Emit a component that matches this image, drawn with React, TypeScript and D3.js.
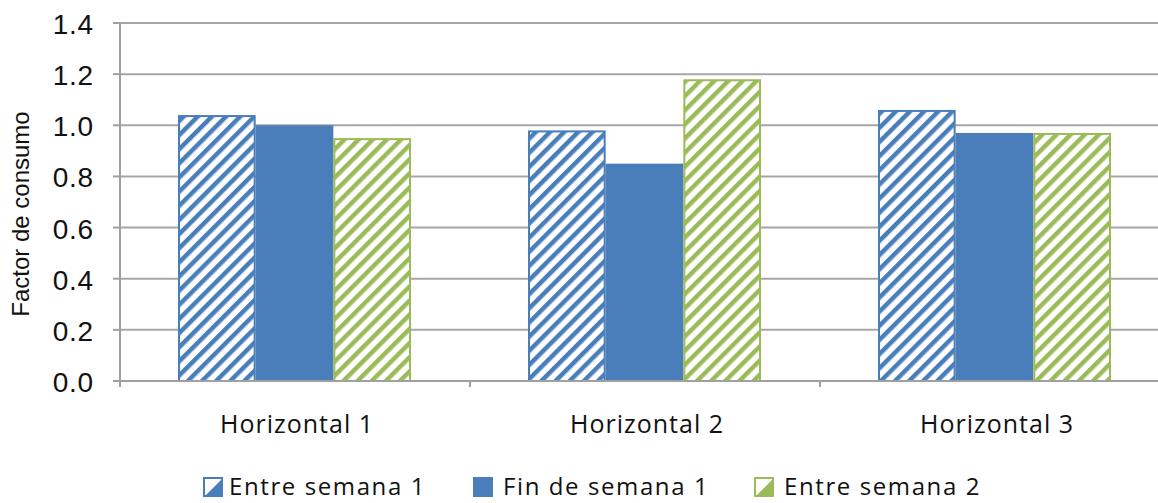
import { useEffect, useRef } from "react";
import * as d3 from "d3";

const categories = ["Horizontal 1", "Horizontal 2", "Horizontal 3"];
const seriesNames = ["Entre semana 1", "Fin de semana 1", "Entre semana 2"];
const entreSemana1 = [1.04, 0.98, 1.06];
const finDeSemana1 = [1.0, 0.85, 0.97];
const entreSemana2 = [0.95, 1.18, 0.97];
const yTicks = [0, 0.2, 0.4, 0.6, 0.8, 1.0, 1.2, 1.4];

const BLUE = "#4a7ebb";
const GREEN = "#9bbb59";

export default function App() {
  const svgRef = useRef<SVGSVGElement | null>(null);

  useEffect(() => {
    const width = 1158;
    const height = 503;
    const margin = { top: 23, right: -12, bottom: 122, left: 120 };

    const svg = d3.select(svgRef.current).attr("width", width).attr("height", height);
    svg.selectAll("*").remove();

    const series = [
      { name: seriesNames[0], values: entreSemana1, color: BLUE, hatch: true },
      { name: seriesNames[1], values: finDeSemana1, color: BLUE, hatch: false },
      { name: seriesNames[2], values: entreSemana2, color: GREEN, hatch: true },
    ];

    // patrones rayados
    const defs = svg.append("defs");
    [["hatch-blue", BLUE], ["hatch-green", GREEN]].forEach(([id, c]) => {
      const p = defs
        .append("pattern")
        .attr("id", id)
        .attr("patternUnits", "userSpaceOnUse")
        .attr("width", 10)
        .attr("height", 10)
        .attr("patternTransform", "rotate(45)");
      p.append("rect").attr("width", 10).attr("height", 10).attr("fill", "white");
      p.append("rect").attr("x", 0).attr("width", 4.5).attr("height", 10).attr("fill", c);
    });

    const x0 = d3
      .scaleBand()
      .domain(categories)
      .range([margin.left, width - margin.right]);

    const x1 = d3
      .scaleBand()
      .domain(seriesNames)
      .range([58, x0.bandwidth() - 59]);

    const y = d3
      .scaleLinear()
      .domain([0, 1.4])
      .range([height - margin.bottom, margin.top]);

    // rejilla
    svg
      .append("g")
      .selectAll("line")
      .data(yTicks.slice(1))
      .enter()
      .append("line")
      .attr("x1", margin.left)
      .attr("x2", width)
      .attr("y1", (d) => y(d))
      .attr("y2", (d) => y(d))
      .attr("stroke", "#a6a6a6")
      .attr("stroke-width", 2);

    // barras
    series.forEach((s) => {
      svg
        .append("g")
        .selectAll("rect")
        .data(s.values)
        .enter()
        .append("rect")
        .attr("x", (d, i) => (x0(categories[i]) as number) + (x1(s.name) as number) + (s.hatch ? 1 : 0))
        .attr("y", (d) => y(d) + (s.hatch ? 1 : 0))
        .attr("width", x1.bandwidth() - (s.hatch ? 2 : 0))
        .attr("height", (d) => y(0) - y(d) - (s.hatch ? 1 : 0))
        .attr("fill", s.hatch ? `url(#${s.color === BLUE ? "hatch-blue" : "hatch-green"})` : s.color)
        .attr("stroke", s.hatch ? s.color : "none")
        .attr("stroke-width", 2);
    });

    // ejes
    const axisColor = "#a0a0a0";
    const y0 = y(0);
    svg
      .append("line")
      .attr("x1", margin.left)
      .attr("x2", margin.left)
      .attr("y1", margin.top)
      .attr("y2", y0 + 6)
      .attr("stroke", axisColor)
      .attr("stroke-width", 2);
    svg
      .append("line")
      .attr("x1", margin.left - 7)
      .attr("x2", width)
      .attr("y1", y0)
      .attr("y2", y0)
      .attr("stroke", axisColor)
      .attr("stroke-width", 2);

    svg
      .append("g")
      .selectAll("line")
      .data(yTicks)
      .enter()
      .append("line")
      .attr("x1", margin.left - 7)
      .attr("x2", margin.left)
      .attr("y1", (d) => y(d))
      .attr("y2", (d) => y(d))
      .attr("stroke", axisColor)
      .attr("stroke-width", 2);

    svg
      .append("g")
      .selectAll("line")
      .data(categories.slice(1))
      .enter()
      .append("line")
      .attr("x1", (d) => x0(d) as number)
      .attr("x2", (d) => x0(d) as number)
      .attr("y1", y0)
      .attr("y2", y0 + 6)
      .attr("stroke", axisColor)
      .attr("stroke-width", 2);

    svg
      .append("g")
      .selectAll("text")
      .data(yTicks)
      .enter()
      .append("text")
      .attr("x", 94)
      .attr("y", (d) => y(d) + 11)
      .attr("text-anchor", "end")
      .attr("font-family", "Liberation Sans, Arial, sans-serif")
      .attr("font-size", 28)
      .attr("letter-spacing", 0.8)
      .attr("fill", "#111")
      .text((d) => d.toFixed(1));

    svg
      .append("text")
      .attr("transform", `translate(29,214) rotate(-90)`)
      .attr("text-anchor", "middle")
      .attr("font-family", "Liberation Sans, Arial, sans-serif")
      .attr("font-size", 24)
      .attr("fill", "#111")
      .text("Factor de consumo");

    svg
      .append("g")
      .selectAll("text")
      .data(categories)
      .enter()
      .append("text")
      .attr("x", (d) => (x0(d) as number) + x0.bandwidth() / 2 + 2)
      .attr("y", 433)
      .attr("text-anchor", "middle")
      .attr("font-family", "Open Sans, sans-serif")
      .attr("font-size", 25)
      .attr("letter-spacing", 1)
      .attr("fill", "#111")
      .text((d) => d);

    // leyenda
    const legendX = [203, 473, 754];
    const lg = svg
      .append("g")
      .selectAll("g")
      .data(series)
      .enter()
      .append("g")
      .attr("transform", (d, i) => `translate(${legendX[i]},477)`);
    lg.append("rect")
      .attr("x", 1)
      .attr("y", 1)
      .attr("width", 18)
      .attr("height", 18)
      .attr("fill", (d) => (d.hatch ? "white" : d.color))
      .attr("stroke", (d) => d.color)
      .attr("stroke-width", 2);
    lg.filter((d) => d.hatch)
      .append("path")
      .attr("d", "M3,18 L18,3 L18,18 Z")
      .attr("fill", (d) => d.color);
    lg.append("text")
      .attr("x", (d, i) => (i === 0 ? 26 : 30))
      .attr("y", 18)
      .attr("font-family", "Open Sans, sans-serif")
      .attr("font-size", 24)
      .attr("letter-spacing", 1.6)
      .attr("fill", "#111")
      .text((d) => d.name);
  }, []);

  return (
    <div style={{ position: "absolute", top: 0, left: 0, background: "white" }}>
      <svg ref={svgRef} style={{ display: "block" }}></svg>
    </div>
  );
}
